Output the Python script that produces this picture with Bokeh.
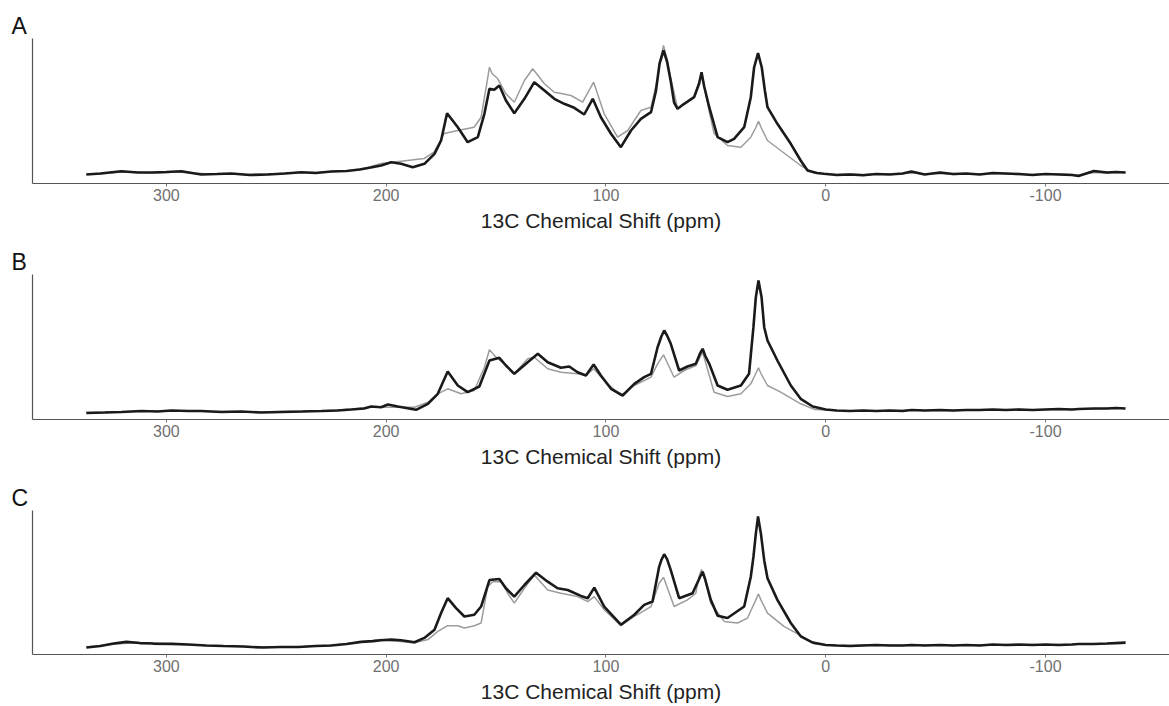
from bokeh.plotting import figure
from bokeh.layouts import column
from bokeh.models import Range1d, FixedTicker, Title
from bokeh.embed import file_html
from bokeh.resources import INLINE

# ---------------- data (ppm, arbitrary intensity) ----------------
tick_values = [300, 200, 100, 0, -100]
tick_labels = {300: "300", 200: "200", 100: "100", 0: "0", -100: "-100"}
panel_labels = ["A", "B", "C"]
x_label = "13C Chemical Shift (ppm)"

# right-hand baseline, shared ppm positions
base_right_ppm = [-5, -11, -17, -23, -29, -35, -39, -45, -52, -58, -64, -70, -76,
                  -82, -88, -94, -100, -106, -112, -115, -122, -128, -132, -136.4]

# Panel A
a_black_ppm = [336.4, 330, 320.5, 313, 306.8, 300, 293.2, 287, 284.1, 277, 270.5, 262, 253.8,
               246, 238.6, 232, 225.0, 218, 212, 207, 202.3, 197.7, 193.2, 187.9, 182.6, 178.0,
               175.0, 172.3, 167.4, 162.9, 158.3, 155.3, 153.0, 150.8, 148.5, 145.5, 141.7,
               137.1, 132.6, 128.0, 123.5, 119.0, 114.4, 109.9, 106.0, 102.3, 97.7, 93.2, 88.6,
               84.1, 79.5, 77.3, 75.6, 73.8, 72.2, 70.5, 69.0, 67.4, 64.4, 59.9, 57.6, 56.5,
               55.3, 53.0, 49.2, 44.7, 41.7, 37.1, 34.1, 32.6, 30.8, 29.1, 27.7, 26.5, 22.0,
               15.9, 11.4, 8.3, 4, 0.9] + base_right_ppm
a_black_int = [9, 10, 12.3, 11, 11, 11.5, 12.3, 10, 9, 9.5, 10, 8.5, 9,
               10, 11.3, 10.5, 12, 12.5, 14, 16, 18, 21.3, 19.7, 16.3, 19.7, 29.7,
               43, 70.3, 56.3, 41.3, 46.3, 69.7, 94.7, 93.7, 98, 83, 70.3,
               84.7, 101.3, 93, 84.7, 79.7, 75.7, 69, 84.7, 66.3, 49.7, 36.3, 53,
               64.7, 71.3, 92, 120, 133, 122, 102, 81, 74.7, 79.7, 86.3, 100, 111.3,
               97, 76.3, 46.3, 41.3, 44.7, 56.3, 86.3, 116, 130.3, 116, 93, 76.3, 59.7,
               39.7, 23, 13, 10.5, 9.7,
               8.5, 9, 8.3, 9.5, 9, 10, 12, 9, 11, 9.5, 10, 9, 10.5,
               10, 9.5, 8.5, 9.5, 9, 8.5, 7.5, 12.5, 11, 11.5, 11]
a_gray_ppm = [336.4, 328, 320, 312, 304, 296, 288, 280, 272, 264, 256, 248, 240, 232, 224,
              216, 209, 202.3, 193.2, 182.7, 178.2, 173.6, 167.4, 160.0, 156.8, 154.2, 153.0,
              151.8, 149.2, 145.5, 141.7, 137.1, 133.3, 128.0, 123.5, 119.7, 115.9, 110.6,
              105.6, 100.8, 94.7, 90.1, 84.1, 79.5, 76.5, 75.4, 73.8, 72.3, 71.2, 67.4, 64.4,
              59.9, 56.5, 53.0, 50.8, 44.7, 38.6, 34.1, 31.8, 30.6, 29.4, 26.5, 20.5, 11.4,
              5.9, 0] + base_right_ppm
a_gray_int = [9.5, 10, 11.5, 11, 10.5, 11.5, 10.5, 9.5, 9.5, 9, 9.5, 10, 11, 11, 12,
              13, 15.5, 20, 22.3, 25, 31.3, 50, 53, 56.3, 66.3, 100, 116.3,
              110, 104.7, 89.7, 81.3, 103, 114.7, 99.7, 91.3, 89.7, 88, 81.3,
              101.3, 69.7, 46.3, 53, 73, 76.3, 105, 122, 138, 125, 112, 75, 80,
              86, 110, 72, 50, 38, 36.3, 46.3, 56, 62.3, 56, 43, 33, 18,
              11, 9.5,
              9, 9.5, 9, 9.5, 9.5, 10, 10.5, 9.5, 10, 9, 9.5, 9.5, 10,
              9.5, 9, 9, 9.5, 9.5, 9, 8.5, 11, 10.5, 11, 11]

# Panel B
b_black_ppm = [336.4, 328, 320.5, 311.4, 304, 297.7, 290, 284.1, 275, 265.9, 257, 247.7, 238,
               229.5, 222, 215.9, 210, 206.8, 202.3, 199.2, 194.7, 186.4, 181.0, 176.5, 172.0,
               167.4, 162.9, 157.6, 153.0, 148.5, 145.5, 141.7, 135.6, 131.0, 126.5, 120.5,
               116.7, 112.9, 109.1, 105.6, 102.3, 97.7, 92.4, 87.1, 82.6, 79.5, 76.5, 74.8,
               73.5, 72.2, 70.5, 66.7, 62.9, 59.1, 57.2, 56.0, 54.9, 53.0, 49.2, 44.7, 38.6,
               34.9, 32.9, 31.8, 30.6, 29.2, 28.0, 26.5, 22.0, 15.9, 11.4, 5.9,
               0] + base_right_ppm
b_black_int = [6.5, 7, 7.5, 8.5, 8, 9, 8.5, 8.5, 7.5, 8, 7, 7.5, 8,
               8.5, 9, 10, 11, 13, 12.3, 15, 13, 9.7, 15.7, 25.7, 48,
               34, 27.3, 33, 59, 61.7, 54, 45.7, 57.3, 65.7, 57.3, 51.7,
               53, 47.3, 44, 55, 44, 30.7, 24, 35.7, 42.3, 45.7, 72.3, 83,
               89, 84, 75.7, 49, 53, 55.7, 66, 70.7, 64, 55.7, 34, 29.7, 34,
               45.7, 92.3, 122.3, 139, 122.3, 92.3, 79, 59, 34, 20.7, 13,
               10,
               9, 8.5, 9, 8.5, 9, 8.5, 9.5, 9, 9.5, 9, 9.5, 9.5, 10,
               9.5, 10, 9.5, 10, 10.5, 10, 10.5, 11, 11, 11.5, 11]
b_gray_ppm = [336.4, 325, 314, 303, 292, 281, 270, 259, 248, 237, 226, 215, 207, 202.3, 187.1,
              181.0, 176.5, 172.0, 165.9, 159.9, 155.3, 153.0, 150.0, 146.2, 141.7, 135.6,
              132.6, 126.5, 120.5, 112.9, 109.1, 105.6, 100.8, 93.2, 87.1, 79.5, 76.5, 73.8,
              69.0, 64.4, 59.1, 56.0, 50.8, 44.7, 38.6, 34.1, 31.6, 30.6, 29.5, 26.5, 20.5,
              11.4, 5, 0] + base_right_ppm
b_gray_int = [7, 7.5, 8, 8.5, 8.5, 8, 8, 7.5, 8, 8.5, 9, 10.5, 12.5, 12.3, 12.3,
              17.3, 25.7, 30.7, 25.7, 29, 52.3, 69.7, 62.3, 55.7, 45.7, 60.7,
              62.3, 50.7, 47.3, 45.7, 44, 50.7, 39, 24, 34, 42.3, 55.7, 64.7,
              42.3, 49, 54, 67.3, 27.3, 23, 25.7, 35.7, 47, 51.7, 46, 34, 27.3,
              15.7, 10, 9.5,
              9, 8.5, 9, 8.5, 9, 9, 9.5, 9, 9, 9, 9.5, 9.5, 9.5,
              9.5, 10, 9.5, 10, 10, 10, 10.5, 10.5, 11, 11]

# Panel C
c_black_ppm = [336.4, 330, 324, 318.2, 312, 306, 297.7, 290, 282, 274, 265, 256, 248, 240,
               232, 225, 218, 211.4, 206, 202.3, 197.7, 193.2, 187.1, 182.6, 178.0, 175.0,
               172.0, 168.2, 164.4, 159.9, 156.8, 153.0, 148.5, 145.5, 141.7, 137.1, 131.8,
               126.5, 122.0, 117.4, 111.4, 108.3, 105.3, 100.8, 93.2, 87.1, 82.6, 78.8, 75.8,
               74.8, 73.5, 72.2, 70.5, 66.7, 60.6, 57.2, 56.0, 54.9, 52.3, 49.2, 44.7, 37.1,
               34.1, 32.9, 31.8, 30.8, 29.5, 28.0, 26.5, 22.0, 15.9, 11.4, 5.9,
               0] + base_right_ppm
c_black_int = [7, 8.5, 11, 12.7, 11.5, 11, 10.7, 10, 9, 8.5, 8, 7, 7.5, 7.5,
               8.5, 9, 10.5, 12.7, 13.5, 14.3, 15, 14.3, 12.3, 16.7, 25, 41.7,
               56.7, 46.7, 38.3, 40, 48.3, 75, 76, 66.7, 58.3, 70, 82.3,
               73.3, 66.7, 65, 59, 56.7, 67.3, 48.3, 30, 40, 50, 53.3, 88.3,
               95, 101, 96, 85, 56.7, 61.7, 78, 83.3, 76, 55, 39, 36.7, 48.3,
               78.3, 98.3, 121.7, 139, 121.7, 95, 76.7, 55, 31.7, 18.3, 12,
               9.5,
               9, 8.5, 9, 9.5, 9, 9, 9.5, 9, 9.5, 9, 9.5, 9, 10,
               9.5, 10, 9.5, 10, 9.5, 10, 10.5, 10.5, 11, 11.5, 12]
c_gray_ppm = [336.4, 325, 314, 303, 292, 281, 270, 259, 248, 237, 226, 215, 206, 202.3, 187.1,
              181.0, 176.5, 172.0, 167.4, 164.4, 159.9, 156.8, 153.8, 151.5, 147.7, 144.7,
              141.7, 137.1, 132.6, 126.5, 120.5, 112.9, 108.3, 105.3, 100.8, 93.2, 87.1, 79.5,
              75.8, 73.8, 69.0, 62.9, 59.1, 57.6, 56.5, 55.3, 52.3, 46.2, 40.1, 35.6, 31.6,
              30.6, 29.5, 26.5, 19.0, 11.4, 5, 0] + base_right_ppm
c_gray_int = [7.5, 10, 12, 11, 10, 9, 8.5, 7.5, 7.5, 8, 9, 11.5, 14, 15, 11.7,
              15, 23.3, 29, 29, 26.7, 29, 31.7, 68.3, 73.3, 73.3, 61.7,
              51.7, 66.7, 80, 65, 61.7, 58.3, 53.3, 58.3, 45, 29, 38.3, 48.3,
              71.7, 77.7, 48.3, 55, 61.7, 79, 85.7, 78, 51.7, 33.3, 31.7, 36.7, 56,
              61, 55, 41.7, 28.3, 19, 10.5, 9.5,
              9, 9, 9.5, 9, 9.5, 9, 9, 9.5, 9.5, 9, 9.5, 9.5, 9.5,
              10, 9.5, 10, 9.5, 10, 10, 10.5, 10.5, 11, 11.5, 12]

panels = [
    (a_black_ppm, a_black_int, a_gray_ppm, a_gray_int),
    (b_black_ppm, b_black_int, b_gray_ppm, b_gray_int),
    (c_black_ppm, c_black_int, c_gray_ppm, c_gray_int),
]

# ---------------- layout ----------------
FONT = "Liberation Sans"
W = 1169
FRAME_H = 145
borders = [(38, 61), (30, 61), (30, 50)]  # (top, bottom)

figs = []
for i, (bp, bi, gp, gi) in enumerate(panels):
    top, bottom = borders[i]
    p = figure(width=W, height=top + FRAME_H + bottom,
               x_range=Range1d(360.9, -156.4), y_range=Range1d(0, 145),
               output_backend="svg", toolbar_location=None,
               min_border_left=32, min_border_right=0,
               min_border_top=top, min_border_bottom=bottom)
    p.title = Title(text=panel_labels[i], align="left", offset=-21, standoff=0,
                    text_font=FONT, text_font_size="23px", text_font_style="normal",
                    text_color="#111111", vertical_align="bottom")
    p.grid.visible = False
    p.outline_line_color = None
    p.background_fill_color = "white"
    p.border_fill_color = "white"

    p.line(gp, gi, line_color="#9c9c9c", line_width=1.5)
    p.line(bp, bi, line_color="#1a1a1a", line_width=2.6)

    xa = p.xaxis[0]
    xa.ticker = FixedTicker(ticks=tick_values)
    xa.major_label_overrides = tick_labels
    xa.axis_line_color = "#555555"
    xa.axis_line_width = 1.2
    xa.major_tick_line_color = "#777777"
    xa.major_tick_out = 3
    xa.major_tick_in = 0
    xa.minor_tick_line_color = None
    xa.major_label_standoff = 2
    xa.major_label_text_font = FONT
    xa.major_label_text_font_size = "16px"
    xa.major_label_text_color = "#707070"
    xa.axis_label = x_label
    xa.axis_label_standoff = 5
    xa.axis_label_text_font = FONT
    xa.axis_label_text_font_size = "21px"
    xa.axis_label_text_font_style = "normal"
    xa.axis_label_text_color = "#222222"

    ya = p.yaxis[0]
    ya.ticker = FixedTicker(ticks=[])
    ya.axis_line_color = "#555555"
    ya.axis_line_width = 1.2
    ya.major_tick_line_color = None
    ya.minor_tick_line_color = None
    ya.major_label_standoff = 0
    figs.append(p)

layout = column(*figs, spacing=0)
open("out.html", "w").write(file_html(layout, INLINE))
